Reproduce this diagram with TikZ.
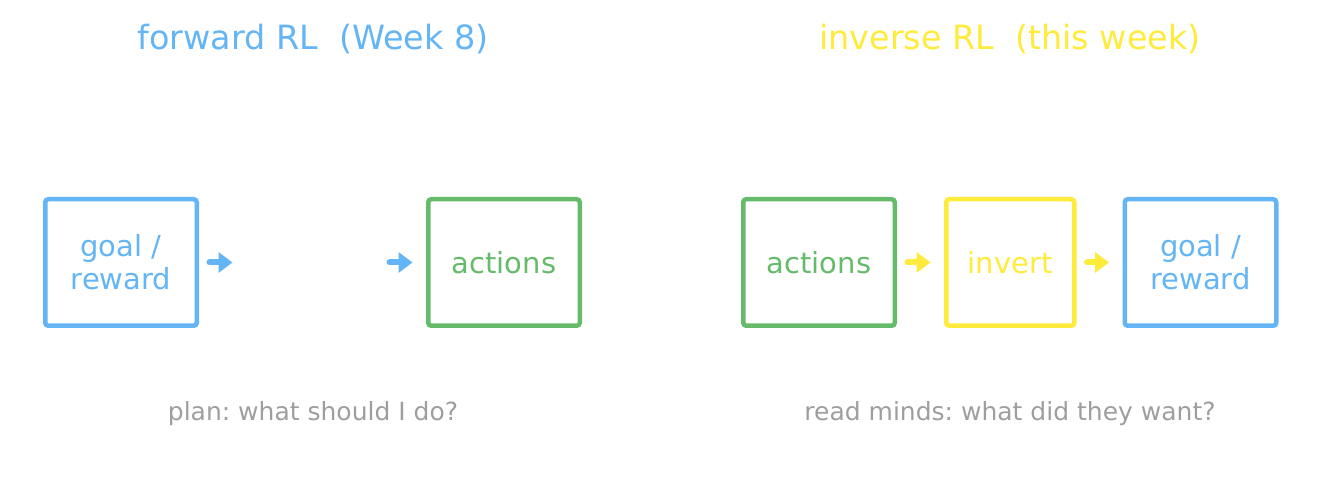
\documentclass[tikz,border=0pt]{standalone}
\usepackage{fontspec}
\setmainfont{DejaVu Sans}
\usetikzlibrary{positioning, arrows.meta}
\definecolor{rlblue}{HTML}{64B5F6}
\definecolor{rlgreen}{HTML}{66BB6A}
\definecolor{rlyellow}{HTML}{FFEB3B}
\definecolor{rlgray}{HTML}{9E9E9E}
\frenchspacing
\tikzset{
  box/.style={draw, rounded corners=3pt, line width=4.5pt, minimum width=151.5pt,
    minimum height=126.5pt, align=center, font=\fontsize{29}{33}\selectfont},
  arr/.style={line width=6pt, line cap=round, -{Triangle[length=14pt, width=20pt]},
    shorten <=10.5pt, shorten >=13.5pt},
  heading/.style={font=\fontsize{33.4}{40}\selectfont},
  caption/.style={text=rlgray, font=\fontsize{25}{30}\selectfont}
}

\begin{document}
\begin{tikzpicture}[x=1pt, y=1pt]
  \useasboundingbox (0,0) rectangle (1323,493);
  % forward RL
  \node[heading, text=rlblue] (titleF) at (313,454) {forward RL~~(Week 8)};
  \node[box, draw=rlblue, text=rlblue] (goalF) at (121,230.5) {goal /\\reward};
  \coordinate[right=47pt of goalF] (hideL);
  \coordinate[right=133pt of hideL] (hideR);
  \node[box, draw=rlgreen, text=rlgreen, right=47pt of hideR] (actF) {actions};
  \node[caption] (capF) at (313,79) {plan: what should I do?};
  \draw[arr, rlblue] (goalF) -- (hideL);
  \draw[arr, rlblue] (hideR) -- (actF);
  % inverse RL
  \node[heading, text=rlyellow] (titleI) at (1010,454) {inverse RL~~(this week)};
  \node[box, draw=rlgreen, text=rlgreen] (actI) at (819,230.5) {actions};
  \node[box, draw=rlyellow, text=rlyellow, minimum width=128pt, right=47pt of actI] (invI) {invert};
  \node[box, draw=rlblue, text=rlblue, right=46pt of invI] (goalI) {goal /\\reward};
  \node[caption] (capI) at (1010,79) {read minds: what did they want?};
  \draw[arr, rlyellow] (actI) -- (invI);
  \draw[arr, rlyellow] (invI) -- (goalI);
\end{tikzpicture}
\end{document}
